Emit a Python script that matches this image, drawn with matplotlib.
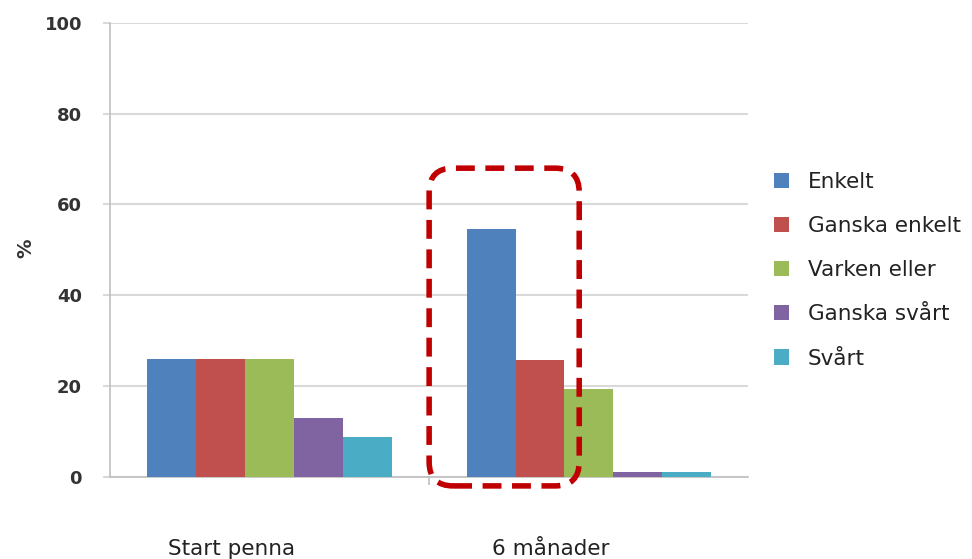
import numpy as np
import matplotlib.pyplot as plt
from matplotlib.patches import FancyBboxPatch
from matplotlib.transforms import IdentityTransform

categories = ['Start penna', '6 månader']
series = ['Enkelt', 'Ganska enkelt', 'Varken eller', 'Ganska svårt', 'Svårt']
values = {
    'Enkelt': [26, 54.6],
    'Ganska enkelt': [26, 25.8],
    'Varken eller': [26, 19.3],
    'Ganska svårt': [13, 1.0],
    'Svårt': [8.8, 1.0],
}
colors = ['#4F81BD', '#C0504D', '#9BBB59', '#8064A2', '#4BACC6']
yticks = [0, 20, 40, 60, 80, 100]

fig = plt.figure(figsize=(9.72, 5.59), dpi=100)
ax = fig.add_axes([0.113, 0.147, 0.657, 0.812])

x = np.arange(len(categories))
width = 0.153
for i, (name, col) in enumerate(zip(series, colors)):
    offs = (i - 2) * width
    ax.bar(x + offs, values[name], width, color=col, label=name, zorder=3)

ax.set_xlim(-0.5, 1.5)
ax.set_ylim(0, 100)
ax.set_yticks(yticks)
ax.yaxis.grid(True, color='#D9D9D9', linewidth=1.5, zorder=0)
for s in ['top', 'right']:
    ax.spines[s].set_visible(False)
for s in ['left', 'bottom']:
    ax.spines[s].set_color('#BFBFBF')
    ax.spines[s].set_linewidth(1.2)
ax.tick_params(axis='y', length=5, color='#D9D9D9', width=1.5, pad=15,
               labelsize=13, labelcolor='#333333')
ax.set_xticks([0.5])
ax.set_xticklabels([''])
ax.tick_params(axis='x', length=6, color='#BFBFBF', width=1.2)
for lbl in ax.get_yticklabels():
    lbl.set_fontweight('bold')

for xi, cat in zip(x, categories):
    ax.text(xi - 0.12, -15.8, cat, ha='center', va='center', fontsize=15.5,
            color='#222222', transform=ax.transData, clip_on=False)

fig.text(0.027, 0.556, '%', rotation=90, ha='center', va='center',
         fontsize=14, fontweight='bold', color='#333333')

ax.legend(loc='center left', bbox_to_anchor=(1.01, 0.455), frameon=False,
          fontsize=15.5, handlelength=0.7, handleheight=0.7, labelspacing=1.12,
          handletextpad=0.85, labelcolor='#222222')

# dashed highlight box around the 6 månader group
fig.canvas.draw()
(x0, y0) = ax.transData.transform((0.5, -2))
(x1, y1) = ax.transData.transform((0.97, 68))
pad = 24
box = FancyBboxPatch((x0 + pad, y0 + pad), (x1 - x0) - 2 * pad, (y1 - y0) - 2 * pad,
                     boxstyle=f'round,pad={pad},rounding_size={pad}',
                     transform=IdentityTransform(), fill=False,
                     edgecolor='#C00000', linewidth=4, linestyle=(0, (3.4, 1.9)),
                     zorder=5, clip_on=False)
fig.patches.append(box)

fig.savefig('out.png', dpi=100)
